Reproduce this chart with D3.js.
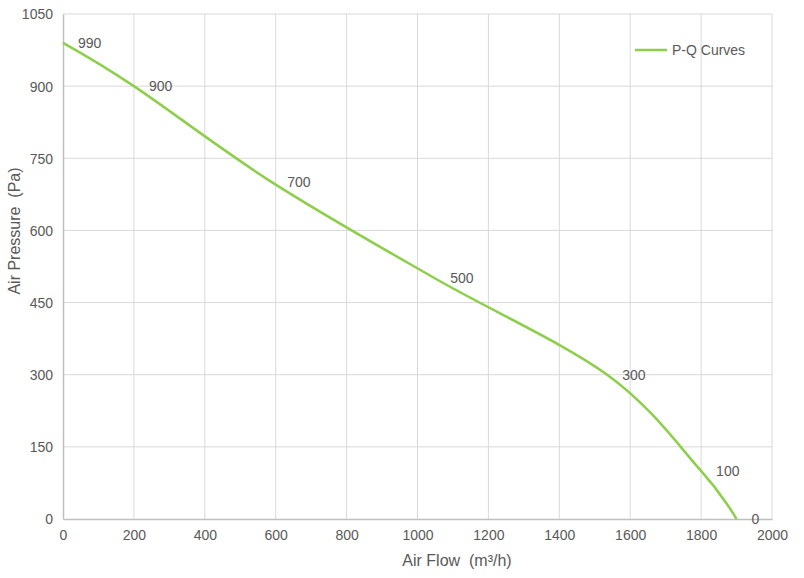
<!DOCTYPE html>
<html>
<head>
<meta charset="utf-8">
<script src="https://cdn.jsdelivr.net/npm/d3@7"></script>
<style>
  body { margin: 0; background: #fff; }
  svg text { font-family: "Liberation Sans", Arial, sans-serif; fill: #595959; white-space: pre; }
</style>
</head>
<body>
<svg width="804" height="578"></svg>
<script>
// P-Q curve points (air flow m3/h, pressure Pa)
const flow = [0, 200, 590, 1050, 1535, 1800, 1900];
const pressure = [990, 900, 700, 500, 300, 100, 0];
const seriesName = "P-Q Curves";
const xTicks = [0, 200, 400, 600, 800, 1000, 1200, 1400, 1600, 1800, 2000];
const yTicks = [0, 150, 300, 450, 600, 750, 900, 1050];

function draw() {
    const svg = d3.select("svg");
    const points = flow.map((f, i) => ({ x: f, y: pressure[i] }));

    const x = d3.scaleLinear().domain([0, 2000]).range([63, 772]);
    const y = d3.scaleLinear().domain([0, 1050]).range([519, 14]);

    // grid
    svg.append("g").selectAll("line")
        .data(xTicks.slice(1))
        .enter().append("line")
        .attr("x1", d => x(d)).attr("x2", d => x(d))
        .attr("y1", y(0)).attr("y2", y(1050))
        .attr("stroke", "#d9d9d9").attr("stroke-width", 1);

    svg.append("g").selectAll("line")
        .data(yTicks.slice(1))
        .enter().append("line")
        .attr("x1", x(0)).attr("x2", x(2000))
        .attr("y1", d => y(d)).attr("y2", d => y(d))
        .attr("stroke", "#d9d9d9").attr("stroke-width", 1);

    // axes
    const xAxis = svg.append("g")
        .attr("transform", `translate(0,${y(0)})`)
        .call(d3.axisBottom(x).tickValues(xTicks).tickFormat(d3.format("d")).tickSize(0).tickPadding(11));
    const yAxis = svg.append("g")
        .attr("transform", `translate(${x(0)},0)`)
        .call(d3.axisLeft(y).tickValues(yTicks).tickFormat(d3.format("d")).tickSize(0).tickPadding(10));

    [xAxis, yAxis].forEach(a => {
        a.select(".domain").attr("stroke", "#bfbfbf").attr("stroke-width", 1.5);
        a.selectAll("text").attr("font-size", 14).attr("fill", "#595959")
            .attr("font-family", "'Liberation Sans', Arial, sans-serif");
    });
    yAxis.selectAll("text").attr("dy", "0.35em");

    // axis titles
    svg.append("text")
        .attr("x", 457).attr("y", 566)
        .attr("text-anchor", "middle")
        .attr("font-size", 16)
        .text("Air Flow  (m³/h)");

    svg.append("text")
        .attr("transform", "translate(20,231) rotate(-90)")
        .attr("text-anchor", "middle")
        .attr("font-size", 16)
        .text("Air Pressure  (Pa)");

    // curve
    const line = d3.line()
        .x(d => x(d.x))
        .y(d => y(d.y))
        .curve(d3.curveCardinal.tension(0));

    svg.append("path")
        .datum(points)
        .attr("d", line)
        .attr("fill", "none")
        .attr("stroke", "#8dcf4a")
        .attr("stroke-width", 2.5);

    // data labels
    svg.append("g").selectAll("text")
        .data(points)
        .enter().append("text")
        .attr("x", d => x(d.x) + 15)
        .attr("y", d => y(d.y))
        .attr("dy", "0.35em")
        .attr("font-size", 14)
        .attr("fill", "#404040")
        .text(d => d.y);

    // legend
    const legend = svg.append("g").attr("transform", "translate(635,50)");
    legend.append("line")
        .attr("x1", 0).attr("x2", 32)
        .attr("stroke", "#8dcf4a").attr("stroke-width", 2.5);
    legend.append("text")
        .attr("x", 37).attr("dy", "0.35em")
        .attr("font-size", 14)
        .text(seriesName);
}

document.addEventListener('DOMContentLoaded', function() {
    draw();
});
</script>
</body>
</html>
